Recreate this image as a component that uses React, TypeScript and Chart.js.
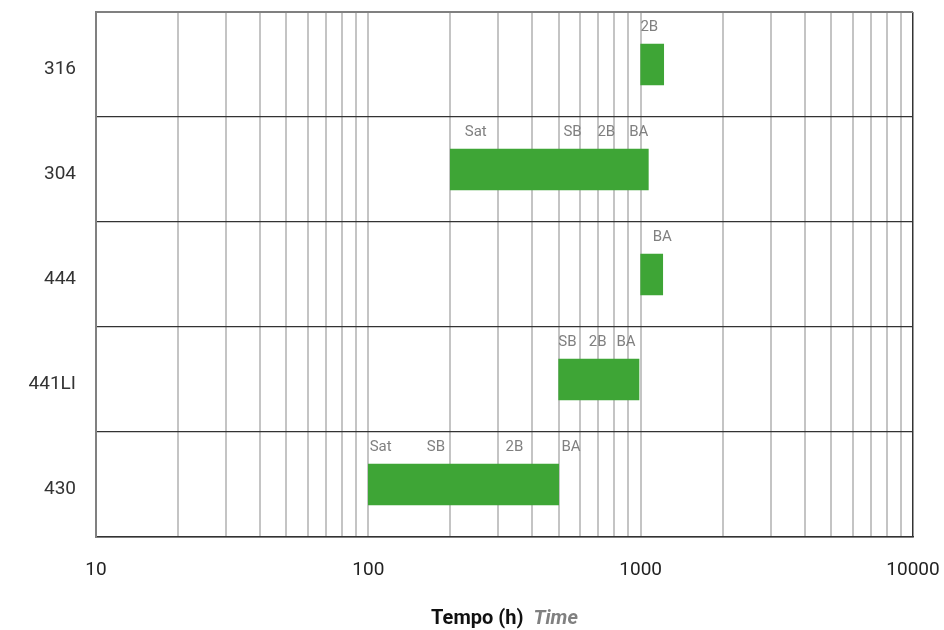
import React, { useEffect, useRef } from 'react';
import { Chart, registerables } from 'chart.js';

Chart.register(...registerables);

const categories = ['316', '304', '444', '441LI', '430'];
const startTimes = [1000, 200, 1000, 500, 100];
const endTimes = [1215, 1067, 1205, 986, 500];

const markerNames = [
  ['2B'],
  ['Sat', 'SB', '2B', 'BA'],
  ['BA'],
  ['SB', '2B', 'BA'],
  ['Sat', 'SB', '2B', 'BA'],
];
const markerTimes = [
  [1076],
  [248, 562, 748, 984],
  [1200],
  [538, 695, 884],
  [111, 177, 344, 555],
];

const gridTimes = [
  10, 20, 30, 40, 50, 60, 70, 80, 90,
  100, 200, 300, 400, 500, 600, 700, 800, 900,
  1000, 2000, 3000, 4000, 5000, 6000, 7000, 8000, 9000,
  10000,
];
const labeledTimes = [10, 100, 1000, 10000];

const axisTitleMain = 'Tempo (h)';
const axisTitleSub = 'Time';

export default function App() {
  const ref = useRef<HTMLCanvasElement>(null);

  useEffect(() => {
    document.body.style.margin = '0';
    if (!ref.current) return;

    const markerPlugin = {
      id: 'markers',
      afterDatasetsDraw(chart: any) {
        const { ctx } = chart;
        const xs = chart.scales.x;
        const ys = chart.scales.y;
        const rowH = (chart.chartArea.bottom - chart.chartArea.top) / categories.length;
        ctx.save();
        ctx.font = '15px Roboto';
        ctx.fillStyle = '#808080';
        ctx.textAlign = 'center';
        ctx.textBaseline = 'middle';
        markerNames.forEach((names, i) => {
          const rowTop = ys.getPixelForValue(i) - rowH / 2;
          names.forEach((n, j) => {
            ctx.fillText(n, xs.getPixelForValue(markerTimes[i][j]), rowTop + 15);
          });
        });
        // category labels on the left
        ctx.font = '19px Roboto';
        ctx.fillStyle = '#333';
        ctx.textAlign = 'right';
        categories.forEach((c, i) => {
          ctx.fillText(c, chart.chartArea.left - 20, ys.getPixelForValue(i) + 5);
        });
        ctx.restore();
      },
    };

    const titlePlugin = {
      id: 'axisTitle',
      afterDraw(chart: any) {
        const { ctx, chartArea } = chart;
        const cx = (chartArea.left + chartArea.right) / 2;
        const y = chart.height - 11;
        ctx.save();
        ctx.textBaseline = 'middle';
        ctx.textAlign = 'left';
        const fMain = 'bold 20px Roboto';
        const fSub = 'italic bold 20px Roboto';
        ctx.font = fMain;
        const w1 = ctx.measureText(axisTitleMain).width;
        ctx.font = fSub;
        const w2 = ctx.measureText(axisTitleSub).width;
        const gap = 10;
        const x0 = cx - (w1 + gap + w2) / 2;
        ctx.font = fMain;
        ctx.fillStyle = '#111';
        ctx.fillText(axisTitleMain, x0, y);
        ctx.font = fSub;
        ctx.fillStyle = '#808080';
        ctx.fillText(axisTitleSub, x0 + w1 + gap, y);
        ctx.restore();
      },
    };

    const chart = new Chart(ref.current, {
      type: 'bar',
      data: {
        labels: categories,
        datasets: [
          {
            data: categories.map((_, i) => [startTimes[i], endTimes[i]]) as any,
            backgroundColor: '#3EA536',
            borderWidth: 0,
            borderSkipped: false,
            barThickness: 41,
          },
        ],
      },
      options: {
        indexAxis: 'y',
        responsive: false,
        animation: false,
        layout: { padding: { top: 12, right: 31, left: 0, bottom: 0 } },
        plugins: {
          legend: { display: false },
          tooltip: { enabled: false },
        },
        scales: {
          x: {
            type: 'logarithmic',
            min: 10,
            max: 10000,
            afterBuildTicks: (s: any) => {
              s.ticks = gridTimes.map((v) => ({ value: v, major: labeledTimes.includes(v) }));
            },
            afterFit: (s: any) => {
              s.height = 93;
              s.paddingLeft = 0;
              s.paddingRight = 0;
              s.paddingTop = 0;
              s.paddingBottom = 0;
            },
            ticks: {
              autoSkip: false,
              maxRotation: 0,
              minRotation: 0,
              padding: 22,
              color: '#222',
              font: { family: 'Roboto', size: 19 },
              callback: (v: any) => (labeledTimes.includes(Number(v)) ? String(v) : ''),
            },
            grid: {
              drawTicks: false,
              color: (c: any) =>
                c.index === 0 ? '#808080' : c.index === gridTimes.length - 1 ? '#333' : '#c4c4c4',
              lineWidth: (c: any) => (c.index === gridTimes.length - 1 ? 1.5 : 2),
            },
            border: { color: '#333', width: 1.5 },
          },
          y: {
            type: 'category',
            offset: true,
            afterFit: (s: any) => {
              s.width = 96;
              s.paddingLeft = 0;
              s.paddingRight = 0;
              s.paddingTop = 0;
              s.paddingBottom = 0;
            },
            ticks: {
              display: false,
            },
            grid: {
              offset: true,
              drawTicks: false,
              color: (c: any) => (c.index === 0 ? '#808080' : '#333'),
              lineWidth: (c: any) => (c.index === 0 ? 2 : 1.3),
            },
            border: { color: '#808080', width: 2 },
          },
        },
      } as any,
      plugins: [markerPlugin, titlePlugin],
    });

    return () => chart.destroy();
  }, []);

  return (
    <div style={{ position: 'absolute', left: 0, top: 0, width: 944, height: 630 }}>
      <canvas ref={ref} width={944} height={630} />
    </div>
  );
}
